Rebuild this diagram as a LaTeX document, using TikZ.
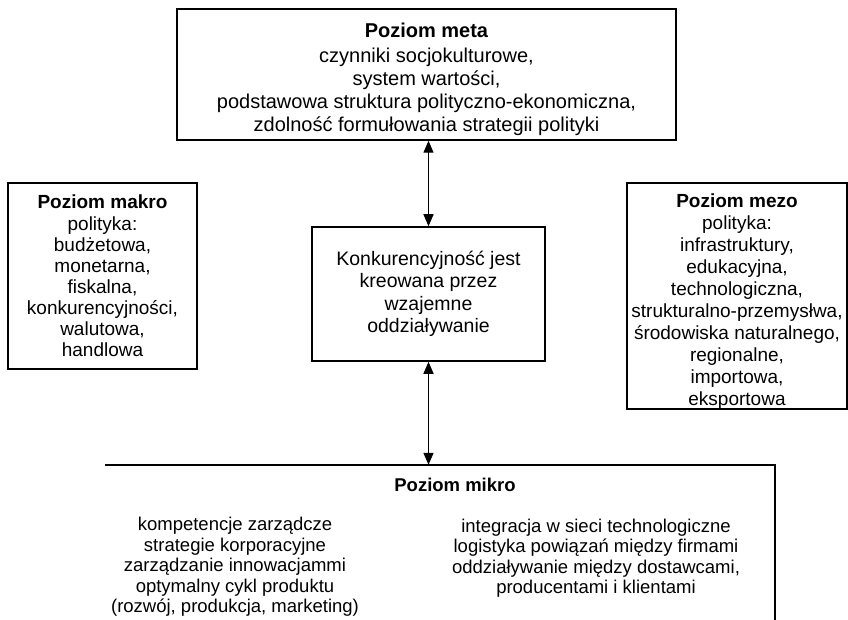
\documentclass[tikz,border=0pt]{standalone}
\usepackage{fontspec}
\setmainfont{Liberation Sans}
\usetikzlibrary{arrows.meta}

\tikzset{%
  level box/.style={
    draw,
    line width=1.5pt,
    align=center,
    inner sep=0pt
  },
  level text/.style={
    align=center,
    inner sep=0pt
  },
  level link/.style={
    <->,
    line width=1.3pt
  },
}

\begin{document}
\begin{tikzpicture}[x=1pt, y=-1pt, >={Triangle[length=12pt, width=10pt]}]
\useasboundingbox (0,0) rectangle (848,620);

\node [level box, minimum width=499pt, minimum height=131pt,
  font=\fontsize{20}{23}\selectfont] (level-meta) at (426.5,74.5)
  {\rule{0pt}{25pt}\textbf{Poziom meta}\\[2pt]
   czynniki socjokulturowe,\\
   system wartości,\\
   podstawowa struktura polityczno-ekonomiczna,\\
   zdolność formułowania strategii polityki};

\node [level box, minimum width=189pt, minimum height=186pt,
  font=\fontsize{19}{21}\selectfont] (level-makro) at (102.5,276)
  {\textbf{Poziom makro}\\[1pt]
   polityka:\\ budżetowa,\\ monetarna,\\ fiskalna,\\
   konkurencyjności,\\ walutowa,\\ handlowa};

\node [level box, minimum width=220pt, minimum height=224pt,
  font=\fontsize{19}{22}\selectfont] (level-mezo) at (737,296)
  {\rule{0pt}{24pt}\textbf{Poziom mezo}\\
   polityka:\\ infrastruktury,\\ edukacyjna,\\ technologiczna,\\
   strukturalno-przemysłwa,\\ środowiska naturalnego,\\
   regionalne,\\ importowa,\\ eksportowa};

\node [level box, minimum width=233pt, minimum height=134pt,
  font=\fontsize{19.5}{22.5}\selectfont] (level-center) at (428.5,294)
  {Konkurencyjność jest\\ kreowana przez\\ wzajemne\\ oddziaływanie};

% poziom mikro (box runs off the page)
\node [level text, minimum width=670pt, minimum height=180pt] (level-mikro) at (440,555) {};
\draw [line width=1.5pt] (level-mikro.north west) -- (level-mikro.north east)
  -- (level-mikro.south east);

\node [level text, font=\fontsize{18.5}{20.5}\selectfont\bfseries] (mikro-title) at (455,485)
  {Poziom mikro};
\node [level text, font=\fontsize{18.5}{20.5}\selectfont] (mikro-left) at (235,567)
  {kompetencje zarządcze\\ strategie korporacyjne\\ zarządzanie innowacjammi\\
   optymalny cykl produktu\\ (rozwój, produkcja, marketing)};
\node [level text, font=\fontsize{18.5}{20.5}\selectfont] (mikro-right) at (596,558)
  {integracja w sieci technologiczne\\ logistyka powiązań między firmami\\
   oddziaływanie między dostawcami,\\ producentami i klientami};

\draw [level link] (level-center.north) -- (level-center.north |- level-meta.south);
\draw [level link] (level-center.south) -- (level-center.south |- level-mikro.north);

\end{tikzpicture}
\end{document}
